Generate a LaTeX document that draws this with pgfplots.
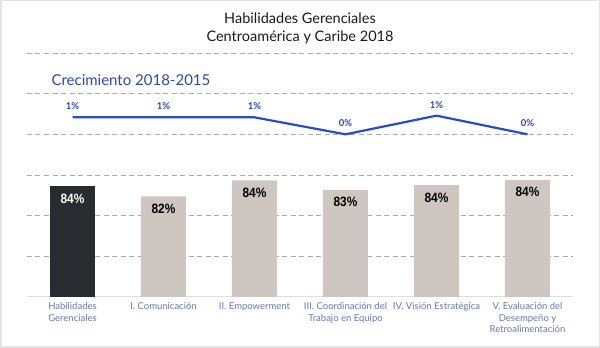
\documentclass[border=0pt]{standalone}
\usepackage{pgfplots}
\pgfplotsset{compat=1.18}
\usepackage{graphicx}
\usepackage{fontspec}
\setmainfont{Lato}
\newfontfamily\barfont{Liberation Sans}
\definecolor{darkbar}{RGB}{42,43,48}
\definecolor{lightbar}{RGB}{205,198,193}
\definecolor{lineblue}{RGB}{40,75,200}
\definecolor{lbltxt}{RGB}{45,70,180}
\definecolor{ticktxt}{RGB}{105,120,180}
\definecolor{gridgray}{RGB}{170,170,170}
\definecolor{basegray}{RGB}{222,222,222}
\definecolor{framegray}{RGB}{228,228,228}
\pgfkeys{/pgf/number format/assume math mode=true}
\begin{document}
\begin{tikzpicture}[x=1pt,y=1pt]
\useasboundingbox (0,0) rectangle (600,348);
\draw[framegray, line width=1.5pt] (0.75,0.75) rectangle (599.25,347.25);
\node[font=\fontsize{14.5}{17}\selectfont, text={rgb,255:red,25;green,25;blue,25}] at (300,330) {Habilidades Gerenciales};
\node[font=\fontsize{14.5}{17}\selectfont, text={rgb,255:red,25;green,25;blue,25}] at (300,311) {Centroamérica y Caribe 2018};
\node[font=\fontsize{15}{17}\selectfont, text=lbltxt, anchor=west] at (48,268) {Crecimiento 2018-2015};
\begin{axis}[
  at={(27pt,51pt)}, anchor=south west, scale only axis,
  width=546pt, height=244pt,
  xmin=-0.5, xmax=5.5, ymin=66.7, ymax=103.7,
  axis line style={draw=none}, tick style={draw=none},
  ytick=\empty,
  xtick={0,1,2,3,4,5},
  xticklabels={{Habilidades\\Gerenciales},{I. Comunicación},{II. Empowerment},{III. Coordinación del\\Trabajo en Equipo},{IV. Visión Estratégica},{V. Evaluación del\\Desempeño y\\Retroalimentación}},
  xticklabel style={align=center, font=\fontsize{9.5}{11.5}\selectfont, text=ticktxt, anchor=north, yshift=-2pt},
  clip=false,
]
\foreach \k in {1,...,6} {
  \edef\tmp{\noexpand\draw[gridgray, line width=0.8pt, dash pattern=on 5pt off 3.5pt] (rel axis cs:0,\k/6) -- (rel axis cs:1,\k/6);}
  \tmp
}
\draw[basegray, line width=1pt] (rel axis cs:0,0) -- (rel axis cs:1,0);
\addplot[ybar, bar width=45pt, bar shift=0pt, fill=darkbar, draw=none,
  point meta=y,
  nodes near coords={\scalebox{0.88}[1]{\barfont\bfseries\fontsize{13.5}{15}\selectfont\pgfmathprintnumber[fixed,precision=0,assume math mode=true]{\pgfplotspointmeta}\%}},
  every node near coord/.append style={anchor=center, yshift=-12.5pt, text=white}]
  coordinates {(0,83.52)};
\addplot[ybar, bar width=45pt, bar shift=0pt, fill=lightbar, draw=none,
  point meta=y,
  nodes near coords={\scalebox{0.88}[1]{\barfont\bfseries\fontsize{13.5}{15}\selectfont\pgfmathprintnumber[fixed,precision=0,assume math mode=true]{\pgfplotspointmeta}\%}},
  every node near coord/.append style={anchor=center, yshift=-12.5pt, text=black}]
  coordinates {(1,81.94) (2,84.37) (3,82.96) (4,83.67) (5,84.47)};
\end{axis}
\begin{axis}[
  at={(27pt,51pt)}, anchor=south west, scale only axis,
  width=546pt, height=244pt,
  xmin=-0.5, xmax=5.5, ymin=-9.58, ymax=4.79,
  hide axis, clip=false,
]
\addplot[lineblue, line width=2.2pt, mark=none,
  point meta=y,
  nodes near coords={\pgfmathprintnumber[fixed,precision=0,assume math mode=true]{\pgfplotspointmeta}\%},
  every node near coord/.append style={anchor=center, yshift=11pt, text=lbltxt, font=\bfseries\fontsize{9.5}{10}\selectfont}]
  coordinates {(0,1.0) (1,1.0) (2,1.0) (3,0.0) (4,1.1) (5,0.0)};
\end{axis}
\end{tikzpicture}
\end{document}
